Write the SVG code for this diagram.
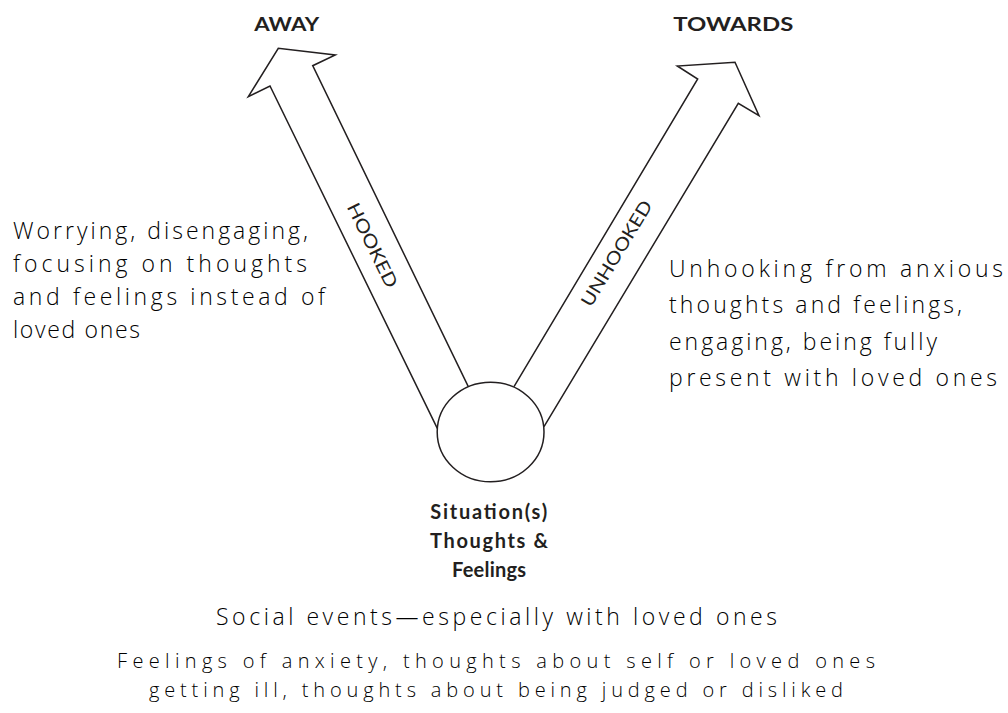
<svg xmlns="http://www.w3.org/2000/svg" width="1008" height="713" viewBox="0 0 1008 713">
  <style>
    .line { fill: none; stroke: #231f20; stroke-width: 1.5; stroke-linejoin: miter; }
    .head { font-family: Lato, "Open Sans", "Liberation Sans", sans-serif; font-weight: 700; fill: #231f20; }
    .lbl { font-family: Lato, "Open Sans", "Liberation Sans", sans-serif; font-weight: 400; fill: #231f20; font-size: 18px; }
    .hand { font-family: "Open Sans", "DejaVu Sans", "Liberation Sans", sans-serif; font-weight: 300; fill: #000000; font-size: 23px; }
    .hand.sm { font-size: 20px; }
  </style>
  <rect width="1008" height="713" fill="#ffffff"/>

  <g id="connectors">
    <path id="arrow-away" class="line" d="M437.3,428.3 L270,86 L248.3,96.7 L278.3,48.3 L335.3,55 L312.7,65.7 L468.3,386.7"/>
    <path id="arrow-towards" class="line" d="M514,386.7 L697.7,79 L677.3,66 L735,62.3 L759,115.7 L738.3,103.3 L544,426.7"/>
    <text class="lbl" x="0" y="0" text-anchor="middle" dominant-baseline="central" textLength="92" lengthAdjust="spacingAndGlyphs" transform="translate(373,245) rotate(63.9)">HOOKED</text>
    <text class="lbl" x="0" y="0" text-anchor="middle" dominant-baseline="central" textLength="120" lengthAdjust="spacingAndGlyphs" transform="translate(616,253) rotate(-59)">UNHOOKED</text>
  </g>

  <g id="node-away">
    <text class="head" x="286.7" y="31" font-size="18" text-anchor="middle" textLength="65" lengthAdjust="spacingAndGlyphs">AWAY</text>
  </g>

  <g id="node-towards">
    <text class="head" x="733.3" y="31" font-size="18" text-anchor="middle" textLength="120" lengthAdjust="spacingAndGlyphs">TOWARDS</text>
  </g>

  <g id="node-situation">
    <ellipse class="line" cx="490.6" cy="432" rx="53.4" ry="49.8"/>
    <text class="head" x="488.7" y="519" font-size="20" text-anchor="middle" textLength="117">Situation(s)</text>
    <text class="head" x="489" y="548" font-size="20" text-anchor="middle" textLength="118">Thoughts &amp;</text>
    <text class="head" x="489" y="577" font-size="20" text-anchor="middle" textLength="74">Feelings</text>
  </g>

  <g id="note-away">
    <text class="hand" x="13" y="239" textLength="295">Worrying, disengaging,</text>
    <text class="hand" x="13" y="272" textLength="294">focusing on thoughts</text>
    <text class="hand" x="13" y="305" textLength="312">and feelings instead of</text>
    <text class="hand" x="13" y="338" textLength="127">loved ones</text>
  </g>

  <g id="note-towards">
    <text class="hand" x="669" y="277" textLength="334">Unhooking from anxious</text>
    <text class="hand" x="669" y="313" textLength="293">thoughts and feelings,</text>
    <text class="hand" x="669" y="350" textLength="268">engaging, being fully</text>
    <text class="hand" x="669" y="386" textLength="328">present with loved ones</text>
  </g>

  <g id="note-situation">
    <text class="hand" x="496.5" y="625" text-anchor="middle" textLength="561">Social events—especially with loved ones</text>
    <text class="hand sm" x="496" y="668" text-anchor="middle" textLength="758">Feelings of anxiety, thoughts about self or loved ones</text>
    <text class="hand sm" x="496" y="697" text-anchor="middle" textLength="694">getting ill, thoughts about being judged or disliked</text>
  </g>
</svg>
